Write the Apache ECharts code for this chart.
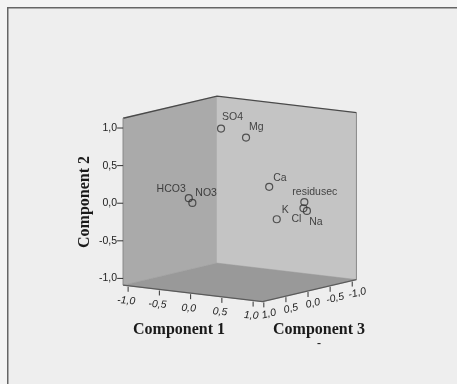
<!DOCTYPE html>
<html><head><meta charset="utf-8">
<script src="https://cdn.jsdelivr.net/npm/echarts@6/dist/echarts.min.js"></script>
<style>html,body{margin:0;padding:0;background:#f4f4f4;}#c{width:457px;height:384px;}</style>
</head><body><div id="c"></div>
<script>
// ---- data (component loadings) ----
const variables  = ['SO4', 'Mg', 'HCO3', 'NO3', 'Ca', 'residusec', 'Cl', 'Na', 'K'];
const component1 = [-0.15, 0.25, -0.10, -0.05, 0.55, 0.90, 0.90, 0.92, 0.60];
const component2 = [ 0.96, 0.88,  0.15,  0.09, 0.24, 0.03, -0.05, -0.09, -0.20];
const component3 = [ 0.13, 0.13,  0.93,  0.92, 0.03, -0.27, -0.25, -0.30, -0.07];
const tickValues = [-1.0, -0.5, 0.0, 0.5, 1.0];
const tickLabels = ['-1,0', '-0,5', '0,0', '0,5', '1,0'];
const range1 = [-1.08, 1.15];
const range2 = [-1.09, 1.13];
const range3 = [-1.095, 1.03];

// ---- view / style (not data) ----
const W = 457, H = 384;
const V = {ox: 236.15, oy: 200.5, ex: [62.5, 7.4], ey: [0, -75.2], ez: [-44.2, 10.4]};
function proj(X, Y, Z) {
  const dx = V.ex[0] * X + V.ey[0] * Y + V.ez[0] * Z;
  const dy = V.ex[1] * X + V.ey[1] * Y + V.ez[1] * Z;
  return [dx, -dy];
}
const labelPlace = {
  SO4: {align: 'left', off: [1, -11]},
  Mg: {align: 'left', off: [3, -10]},
  HCO3: {align: 'right', off: [-3, -9]},
  NO3: {align: 'left', off: [3, -10]},
  Ca: {align: 'left', off: [4, -9]},
  residusec: {align: 'left', off: [-12, -10]},
  Cl: {align: 'center', off: [-7, 11]},
  Na: {align: 'center', off: [9, 11]},
  K: {align: 'left', off: [5, -9]}
};
const SANS = 'Arial, "Liberation Sans", sans-serif';
const SERIF = '"Times New Roman", "Liberation Serif", serif';

function line(pts, stroke, w) {
  return {type: 'polyline', shape: {points: pts}, style: {stroke: stroke, lineWidth: w, fill: null}};
}
function poly(pts, fill) {
  return {type: 'polygon', shape: {points: pts}, style: {fill: fill, stroke: fill, lineWidth: 0.5}};
}
function txt(s, x, y, o) {
  o = o || {};
  return {type: 'text', x: x, y: y, rotation: o.rot || 0,
    style: {text: s, fill: '#222', fontSize: 10.5, fontFamily: SANS,
      fontStyle: o.italic ? 'italic' : 'normal',
      align: o.align || 'center', verticalAlign: o.va || 'middle'}};
}

function wallsRender(params, api) {
  const [x0, x1] = range1, [y0, y1] = range2, [z0, z1] = range3;
  const P = (X, Y, Z) => api.coord(proj(X, Y, Z));
  return {type: 'group', children: [
    poly([P(x0, y0, z1), P(x0, y0, z0), P(x0, y1, z0), P(x0, y1, z1)], '#aaaaaa'),
    poly([P(x0, y0, z0), P(x1, y0, z0), P(x1, y1, z0), P(x0, y1, z0)], '#c4c4c4'),
    poly([P(x0, y0, z0), P(x1, y0, z0), P(x1, y0, z1), P(x0, y0, z1)], '#999999'),
    line([P(x0, y1, z1), P(x0, y1, z0), P(x1, y1, z0)], '#4a4a4a', 1.3),
    line([P(x1, y1, z0), P(x1, y0, z0)], '#8a8a8a', 1),
    line([P(x0, y1, z1), P(x0, y0, z1)], '#8a8a8a', 1),
    line([P(x0, y0, z1), P(x1, y0, z1), P(x1, y0, z0)], '#5a5a5a', 1.2)
  ]};
}

function axesRender(params, api) {
  const [x0, x1] = range1, [y0, y1] = range2, [z0, z1] = range3;
  const P = (X, Y, Z) => api.coord(proj(X, Y, Z));
  const ch = [];
  tickValues.forEach((t, i) => {
    let p = P(x0, t, z1);
    ch.push(line([[p[0] - 6, p[1]], [p[0], p[1]]], '#333', 1));
    ch.push(txt(tickLabels[i], p[0] - 6, p[1], {align: 'right'}));
    p = P(t, y0, z1);
    ch.push(line([[p[0], p[1] + 1], [p[0], p[1] + 6]], '#333', 1));
    ch.push(txt(tickLabels[i], p[0] - 2, p[1] + 15, {italic: true, rot: -0.06}));
    p = P(x1, y0, t);
    ch.push(line([[p[0], p[1] + 1], [p[0], p[1] + 6]], '#333', 1));
    ch.push(txt(tickLabels[i], p[0] + 5, p[1] + 12.5, {italic: true, rot: 0.23}));
  });
  return {type: 'group', children: ch};
}

const pointData = variables.map((name, i) => {
  const lp = labelPlace[name];
  return {
    name: name,
    value: proj(component1[i], component2[i], component3[i]),
    label: {show: true, formatter: name, position: 'inside', align: lp.align,
      verticalAlign: 'middle', offset: lp.off}
  };
});

const chart = echarts.init(document.getElementById('c'));
chart.setOption({
  animation: false,
  backgroundColor: '#f4f4f4',
  grid: {left: 0, top: 0, right: 0, bottom: 0, containLabel: false, outerBoundsMode: 'none'},
  xAxis: {type: 'value', min: -V.ox, max: W - V.ox, show: false},
  yAxis: {type: 'value', min: V.oy - H, max: V.oy, show: false},
  graphic: [
    {type: 'rect', left: 7, top: 7, z: -10, shape: {x: 0, y: 0, width: 460, height: 390},
      style: {fill: '#eeeeee', stroke: '#666', lineWidth: 1.5}},
    {type: 'text', x: 179, y: 330, z: 10, style: {text: 'Component 1', font: 'bold 16px ' + SERIF, fill: '#1a1a1a', align: 'center', verticalAlign: 'middle'}},
    {type: 'text', x: 319, y: 330, z: 10, style: {text: 'Component 3', font: 'bold 16px ' + SERIF, fill: '#1a1a1a', align: 'center', verticalAlign: 'middle'}},
    {type: 'text', x: 319, y: 344, z: 10, style: {text: '-', font: 'bold 12px ' + SERIF, fill: '#1a1a1a', align: 'center', verticalAlign: 'middle'}},
    {type: 'text', x: 85, y: 202, rotation: Math.PI / 2, z: 10, style: {text: 'Component 2', font: 'bold 16px ' + SERIF, fill: '#1a1a1a', align: 'center', verticalAlign: 'middle'}}
  ],
  series: [
    {type: 'custom', z: 1, clip: false, silent: true, renderItem: wallsRender, data: [[0, 0]]},
    {type: 'custom', z: 2, clip: false, silent: true, renderItem: axesRender, data: [[0, 0]]},
    {type: 'scatter', z: 3, symbol: 'circle', symbolSize: 7,
      itemStyle: {color: 'rgba(0,0,0,0)', borderColor: '#333', borderWidth: 1.2},
      label: {color: '#222', fontSize: 10.5, fontFamily: SANS},
      data: pointData}
  ]
});
</script></body></html>
